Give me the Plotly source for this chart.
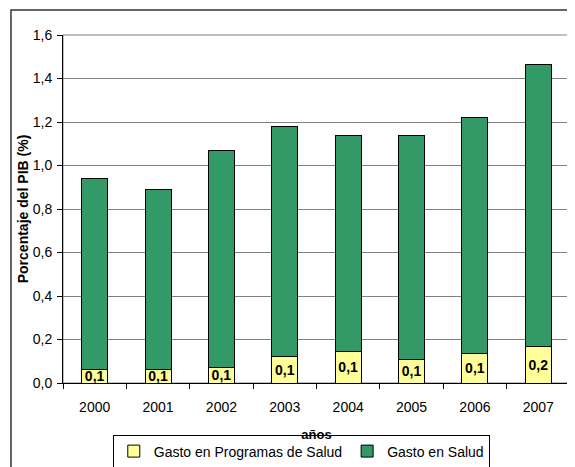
import plotly.graph_objects as go

years = ["2000", "2001", "2002", "2003", "2004", "2005", "2006", "2007"]
gasto_programas = [0.06, 0.06, 0.07, 0.12, 0.145, 0.11, 0.135, 0.17]
gasto_salud = [0.88, 0.83, 1.00, 1.06, 0.995, 1.03, 1.085, 1.295]
y_ticks = [0.0, 0.2, 0.4, 0.6, 0.8, 1.0, 1.2, 1.4, 1.6]

FONT = "Liberation Sans, Arial, sans-serif"

fig = go.Figure()
fig.add_trace(go.Bar(
    x=years, y=gasto_programas, name="Gasto en Programas de Salud",
    marker=dict(color="#FFFF99", line=dict(color="black", width=1)),
    texttemplate="<b>%{y:.1f}</b>", textposition="inside",
    insidetextanchor="middle", constraintext="none",
    textfont=dict(family=FONT, size=14, color="black"),
))
fig.add_trace(go.Bar(
    x=years, y=gasto_salud, name="Gasto en Salud",
    marker=dict(color="#339966", line=dict(color="black", width=1)),
))

# page body has an 8px default margin, so the figure is sized/offset to match
fig.update_layout(
    width=567, height=459,
    barmode="stack", bargap=0.59,
    separators=",.",
    paper_bgcolor="white", plot_bgcolor="white",
    font=dict(family=FONT, size=14, color="black"),
    margin=dict(l=55, r=5, t=27, b=84, autoexpand=False),
    showlegend=True,
    legend=dict(
        orientation="h", x=0.47, xanchor="center", y=-0.148, yanchor="top",
        bgcolor="white", bordercolor="black", borderwidth=1,
        font=dict(family=FONT, size=14, color="black"),
        itemwidth=30, traceorder="normal",
    ),
    shapes=[
        dict(type="rect", xref="paper", yref="paper", x0=0, x1=1, y0=0, y1=1,
             line=dict(color="#808080", width=1), layer="below"),
        dict(type="rect", xref="paper", yref="paper", x0=-0.1026, x1=1.2,
             y0=-0.4, y1=1.0718, line=dict(color="#333333", width=1.5),
             layer="below"),
    ],
)

fig.update_xaxes(
    type="category", showline=True, linecolor="black", linewidth=1,
    ticks="outside", tickson="boundaries", ticklen=5, tickcolor="black",
    ticklabelstandoff=11, automargin=False,
    showgrid=False,
    tickfont=dict(family=FONT, size=14, color="black"),
    title=dict(text="<b>años</b>", font=dict(family=FONT, size=13, color="black"),
               standoff=16),
)
fig.update_yaxes(
    range=[0, 1.6], tickvals=y_ticks, tickformat=".1f",
    showline=True, linecolor="black", linewidth=1,
    ticks="outside", ticklen=5, tickcolor="black",
    ticklabelstandoff=2, automargin=False,
    showgrid=True, gridcolor="#808080", gridwidth=1,
    zeroline=False,
    tickfont=dict(family=FONT, size=14, color="black"),
    title=dict(text="<b>Porcentaje del PIB (%)</b>",
               font=dict(family=FONT, size=14, color="black"), standoff=0),
)

fig.write_html("out.html")
